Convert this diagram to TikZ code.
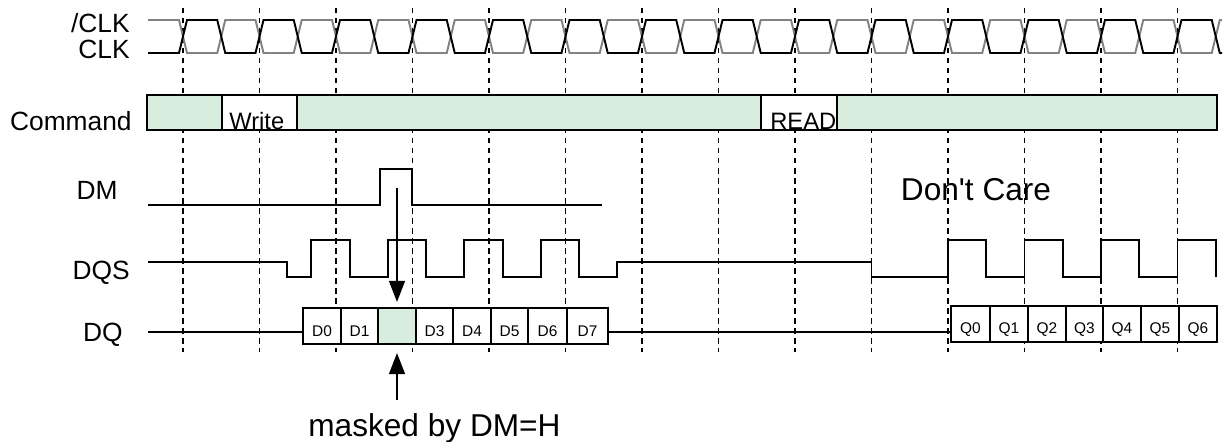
\documentclass[tikz,border=0pt]{standalone}
\usepackage{fontspec}
\setmainfont{Liberation Sans}
\usetikzlibrary{arrows.meta}

\definecolor{maskgreen}{RGB}{217,237,223}
\definecolor{clkgray}{RGB}{130,130,130}

\tikzset{
  sig/.style={black, line width=1.1pt},
  clkn/.style={clkgray, line width=1.1pt},
  guide/.style={black, line width=1.1pt, dash pattern=on 3pt off 2.7pt},
  cmdbox/.style={draw=black, line width=1.1pt, fill=maskgreen},
  slotbox/.style={draw=black, line width=1.1pt, fill=white},
  lbl/.style={font=\fontsize{15}{18}\selectfont, inner sep=0pt},
  cmdtxt/.style={font=\fontsize{13.5}{16}\selectfont, inner sep=0pt},
  slottxt/.style={font=\fontsize{8.8}{10}\selectfont, inner sep=0pt},
  bigtxt/.style={font=\fontsize{18}{21}\selectfont, inner sep=0pt},
  maskarrow/.style={black, line width=1.1pt, -{Triangle[length=12pt,width=9pt]}}
}

\begin{document}
\begin{tikzpicture}[x=0.02cm, y=-0.02cm]
\useasboundingbox (0,0) rectangle (1224,442);
% clock grid
\foreach \k in {0,...,13}
  \draw [guide] ({183+76.5*\k},8) -- ({183+76.5*\k},352);
% /CLK and CLK
\draw [clkn] (148,20) \foreach \m in {0,...,27} {
  -- ({179+38.25*\m},{36.5-16.5*cos(180*\m)}) -- ({187+38.25*\m},{36.5+16.5*cos(180*\m)}) } -- (1222,20);
\draw [sig] (148,53) \foreach \m in {0,...,27} {
  -- ({179+38.25*\m},{36.5+16.5*cos(180*\m)}) -- ({187+38.25*\m},{36.5-16.5*cos(180*\m)}) } -- (1222,53);
% command bus
\draw [cmdbox] (147,95) rectangle (222,130);
\draw [slotbox] (222,95) rectangle (297,130);
\draw [cmdbox] (297,95) rectangle (761,130);
\draw [slotbox] (761,95) rectangle (837,130);
\draw [cmdbox] (837,95) rectangle (1217,130);
\node (wr) [cmdtxt, anchor=base west] at (229,130) {Write};
\node (rd) [cmdtxt, anchor=base west] at (770,130) {READ};
% DM
\draw [sig] (148,205) -- (380,205) -- (380,169) -- (412,169) -- (412,205) -- (602,205);
% DQS
\draw [sig] (148,262) -- (287,262) -- (287,277) -- (311,277) -- (311,240) -- (350,240)
  -- (350,277) -- (388,277) -- (388,240) -- (426,240) -- (426,277) -- (464,277)
  -- (464,240) -- (503,240) -- (503,277) -- (541,277) -- (541,240) -- (579,240)
  -- (579,277) -- (617,277) -- (617,262) -- (871.5,262) -- (871.5,277) -- (948,277)
  -- (948,240) -- (986,240) -- (986,277) -- (1024.5,277) -- (1024.5,240) -- (1063,240)
  -- (1063,277) -- (1101,277) -- (1101,240) -- (1139,240) -- (1139,277) -- (1177.5,277)
  -- (1177.5,240) -- (1216,240) -- (1216,277);
% DQ
\draw [sig] (148,332) -- (303,332);
\draw [sig] (608,332) -- (951,332);
\foreach \xa/\xb/\t in {303/341/D0, 341/378/D1, 416/453/D3, 453/491/D4,
                        491/528/D5, 528/567/D6, 567/608/D7} {
  \draw [slotbox] (\xa,308) rectangle (\xb,344);
  \node (dq-\t) [slottxt, anchor=base] at ({(\xa+\xb)/2},337) {\t};
}
\draw [cmdbox] (378,308) rectangle (416,344);
\foreach \xa/\xb/\t in {951/990/Q0, 990/1028/Q1, 1028/1066/Q2, 1066/1103/Q3,
                        1103/1141/Q4, 1141/1179/Q5, 1179/1217/Q6} {
  \draw [slotbox] (\xa,306) rectangle (\xb,342);
  \node (dq-\t) [slottxt, anchor=base] at ({(\xa+\xb)/2},334) {\t};
}
% labels
\node (lnclk) [lbl, anchor=base east] at (130,33) {/CLK};
\node (lclk) [lbl, anchor=base east] at (130,59) {CLK};
\node (lcmd) [lbl, anchor=base east] at (132,131) {Command};
\node (ldm) [lbl, anchor=base east] at (118,200) {DM};
\node (ldqs) [lbl, anchor=base east] at (130,279) {DQS};
\node (ldq) [lbl, anchor=base east] at (123,341) {DQ};
\node (dc) [bigtxt, anchor=base] at (976,201) {Don\textquotesingle t Care};
\node (note) [bigtxt, anchor=base west] at (308,436) {masked by DM=H};
% mask arrows
\coordinate (dmhigh) at (397,188);
\coordinate (masktop) at (397,302);
\coordinate (maskbot) at (397,353);
\coordinate (notetop) at (397,400);
\draw [maskarrow] (dmhigh) -- (masktop);
\draw [maskarrow] (notetop) -- (maskbot);
\end{tikzpicture}
\end{document}
